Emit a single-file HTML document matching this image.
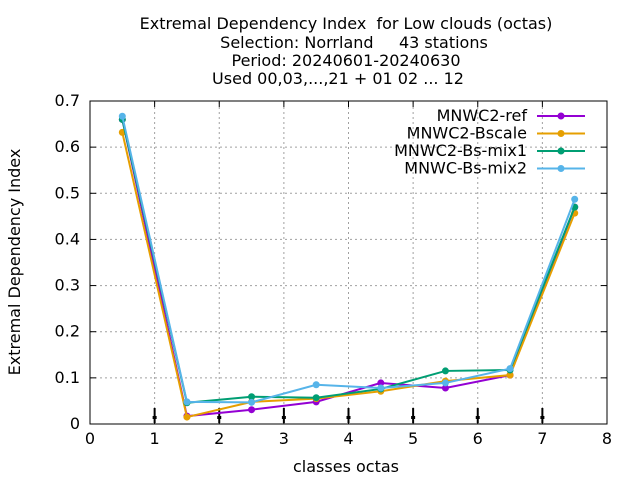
<!DOCTYPE html>
<html><head><meta charset="utf-8"><style>body{margin:0;background:#fff}svg{display:block;font-family:"DejaVu Sans","Liberation Sans",sans-serif}text{white-space:pre}</style></head>
<body>
<svg id="c" width="640" height="480">
<g font-size="16" text-anchor="middle" fill="#000">
<text x="346" y="29" xml:space="preserve">Extremal Dependency Index  for Low clouds (octas)</text>
<text x="354" y="48" xml:space="preserve">Selection: Norrland     43 stations</text>
<text x="346" y="66">Period: 20240601-20240630</text>
<text x="338" y="84">Used 00,03,...,21 + 01 02 ... 12</text>
</g>
<text transform="translate(20,262) rotate(-90)" font-size="16" text-anchor="middle">Extremal Dependency Index</text>
<text x="346" y="472" font-size="16" text-anchor="middle">classes octas</text>
<g id="grid"></g><g id="axes"></g><g id="series"></g><g id="legend"></g>
</svg>
<script>
const xTicks=[0,1,2,3,4,5,6,7,8];
const yTicks=[0,0.1,0.2,0.3,0.4,0.5,0.6,0.7];
const yTickLabels=["0","0.1","0.2","0.3","0.4","0.5","0.6","0.7"];
const classes=[0.5,1.5,2.5,3.5,4.5,5.5,6.5,7.5];
const seriesNames=["MNWC2-ref","MNWC2-Bscale","MNWC2-Bs-mix1","MNWC-Bs-mix2"];
const refVals=[0.66,0.017,0.031,0.048,0.089,0.078,0.106,0.47];
const bscaleVals=[0.632,0.015,0.048,0.055,0.071,0.093,0.106,0.457];
const mix1Vals=[0.66,0.046,0.059,0.057,0.076,0.115,0.117,0.47];
const mix2Vals=[0.667,0.048,0.047,0.085,0.078,0.089,0.12,0.487];
const errX=[1,2,3,4,5,6,7];
const colors=["#9400d3","#e69f00","#009e73","#56b4e9"];
const X0=90,X1=607,Y0=424,Y1=101;
const sx=v=>X0+(v-0)/(8-0)*(X1-X0);
const sy=v=>Y0-(v-0)/(0.7-0)*(Y0-Y1);
const NS="http://www.w3.org/2000/svg";
function mk(p,t,a){const e=document.createElementNS(NS,t);for(const k in a)e.setAttribute(k,a[k]);p.appendChild(e);return e;}
const grid=document.getElementById('grid'),axes=document.getElementById('axes'),ser=document.getElementById('series'),leg=document.getElementById('legend');
xTicks.forEach(t=>{
 if(t>0&&t<8){const l=mk(grid,'line',{x1:sx(t),x2:sx(t),y1:Y0,y2:Y1,stroke:'#a0a0a0','stroke-dasharray':'2,3'});
 
 }
 const tx=mk(axes,'text',{x:sx(t),y:Y0+20,'font-size':16,'text-anchor':'middle'});tx.textContent=t;
 
 
 mk(axes,'line',{x1:sx(t),x2:sx(t),y1:Y0,y2:Y0-6,stroke:'#000'});
 mk(axes,'line',{x1:sx(t),x2:sx(t),y1:Y1,y2:Y1+6,stroke:'#000'});
});
yTicks.forEach((t,i)=>{
 if(t>0&&t<0.7){const l=mk(grid,'line',{x1:X0,x2:X1,y1:sy(t),y2:sy(t),stroke:'#a0a0a0','stroke-dasharray':'2,3'});
 
 }
 const tx=mk(axes,'text',{x:X0-10,y:sy(t)+5,'font-size':16,'text-anchor':'end'});tx.textContent=yTickLabels[i];
 
 
 mk(axes,'line',{x1:X0,x2:X0+6,y1:sy(t),y2:sy(t),stroke:'#000'});
 mk(axes,'line',{x1:X1,x2:X1-6,y1:sy(t),y2:sy(t),stroke:'#000'});
});
const fr=mk(axes,'rect',{x:X0,y:Y1,width:X1-X0,height:Y0-Y1,fill:'none',stroke:'#000'});


errX.forEach(t=>{
 const g=mk(axes,'g',{});
 
 
 mk(g,'line',{x1:sx(t),x2:sx(t),y1:Y0-16,y2:Y0-1,stroke:'#000','stroke-width':2});
 mk(g,'rect',{x:sx(t)-2,y:Y0-8,width:4,height:3,fill:'#000'});
});
const all=[refVals,bscaleVals,mix1Vals,mix2Vals];
all.forEach((vals,k)=>{
 const g=mk(ser,'g',{});
 
 
 mk(g,'polyline',{points:vals.map((v,i)=>sx(classes[i])+','+sy(v)).join(' '),fill:'none',stroke:colors[k],'stroke-width':2});
 vals.forEach((v,i)=>{const c=mk(g,'circle',{cx:sx(classes[i]),cy:sy(v),r:3.5,fill:colors[k]});
  
  });
 const ly=116+k*17.5;
 const le=mk(leg,'g',{});
 
 
 const t=mk(le,'text',{x:527,y:ly+5,'font-size':16,'text-anchor':'end'});t.textContent=seriesNames[k];
 mk(le,'line',{x1:537,x2:585,y1:ly,y2:ly,stroke:colors[k],'stroke-width':2});
 mk(le,'circle',{cx:561,cy:ly,r:3.5,fill:colors[k]});
});
</script>
</body></html>
